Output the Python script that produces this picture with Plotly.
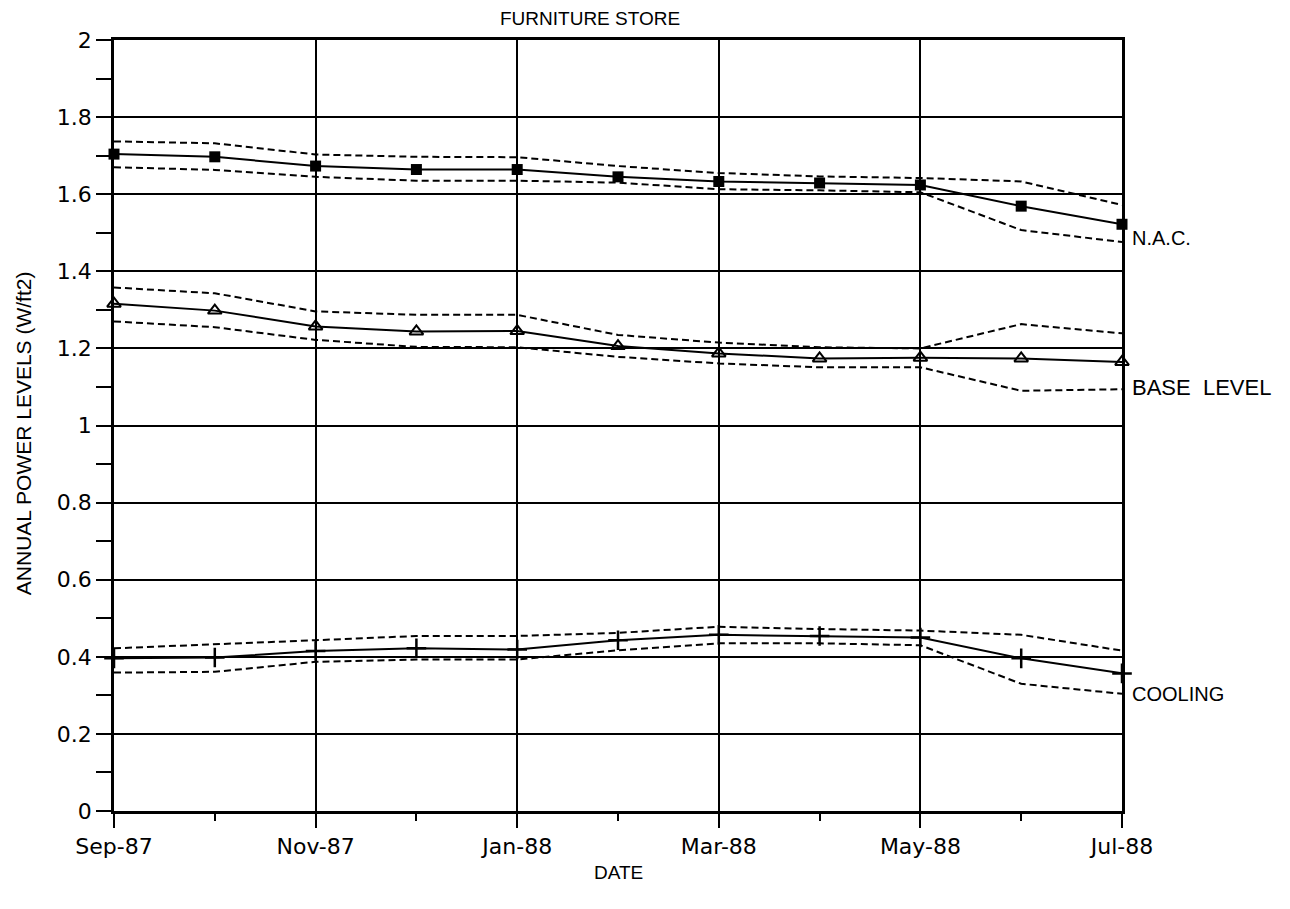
import plotly.graph_objects as go

# Monthly readings, Sep-87 through Jul-88
months = ["Sep-87", "Oct-87", "Nov-87", "Dec-87", "Jan-88", "Feb-88",
          "Mar-88", "Apr-88", "May-88", "Jun-88", "Jul-88"]

nac = [1.704, 1.697, 1.673, 1.664, 1.664, 1.645, 1.633, 1.629, 1.624, 1.569, 1.522]
nac_hi = [1.737, 1.732, 1.703, 1.697, 1.696, 1.673, 1.655, 1.646, 1.642, 1.633, 1.572]
nac_lo = [1.670, 1.663, 1.645, 1.635, 1.635, 1.630, 1.613, 1.610, 1.605, 1.507, 1.476]

base = [1.316, 1.298, 1.257, 1.244, 1.245, 1.206, 1.187, 1.174, 1.176, 1.174, 1.165]
base_hi = [1.358, 1.343, 1.296, 1.287, 1.287, 1.235, 1.215, 1.203, 1.200, 1.263, 1.239]
base_lo = [1.270, 1.255, 1.222, 1.204, 1.203, 1.178, 1.161, 1.151, 1.151, 1.090, 1.094]

cool = [0.396, 0.398, 0.415, 0.422, 0.419, 0.443, 0.457, 0.454, 0.450, 0.396, 0.357]
cool_hi = [0.422, 0.432, 0.443, 0.454, 0.454, 0.462, 0.478, 0.472, 0.468, 0.457, 0.416]
cool_lo = [0.359, 0.361, 0.387, 0.393, 0.393, 0.417, 0.435, 0.435, 0.430, 0.330, 0.304]

series_labels = ["N.A.C.", "BASE LEVEL", "COOLING"]
y_ticks = [0, 0.2, 0.4, 0.6, 0.8, 1, 1.2, 1.4, 1.6, 1.8, 2]

x = list(range(len(months)))
TICK_FONT = "DejaVu Sans"
TEXT_FONT = "Liberation Sans"
INK = "black"

fig = go.Figure()

def band(lo, hi):
    for ys in (hi, lo):
        fig.add_trace(go.Scatter(
            x=x, y=ys, mode="lines",
            line=dict(color=INK, width=2, dash="7px,4px"),
            hoverinfo="skip", showlegend=False))

band(nac_lo, nac_hi)
band(base_lo, base_hi)
band(cool_lo, cool_hi)

fig.add_trace(go.Scatter(
    x=x, y=nac, mode="lines+markers", name=series_labels[0],
    cliponaxis=False,
    line=dict(color=INK, width=2),
    marker=dict(symbol="square", size=11, color=INK)))
fig.add_trace(go.Scatter(
    x=x, y=base, mode="lines+markers", name=series_labels[1],
    cliponaxis=False,
    line=dict(color=INK, width=2),
    marker=dict(symbol="triangle-up-open", size=12, color=INK,
                line=dict(color=INK, width=2))))
fig.add_trace(go.Scatter(
    x=x, y=cool, mode="lines+markers", name=series_labels[2],
    cliponaxis=False,
    line=dict(color=INK, width=2),
    marker=dict(symbol="cross-thin", size=14, color=INK,
                line=dict(color=INK, width=2.5))))

# Series names written beside the right edge
label_y = [nac_lo[-1] + 0.01, base_lo[-1] + 0.005, cool_lo[-1]]
label_size = [20, 22, 20]
for txt, yv, sz in zip(series_labels, label_y, label_size):
    fig.add_annotation(x=x[-1], y=yv, text=txt.replace(" ", "&nbsp; "),
                       showarrow=False, xanchor="left", yanchor="middle",
                       xshift=8, font=dict(family=TEXT_FONT, size=sz, color=INK))

# Chart title and axis titles
fig.add_annotation(x=0.472, y=1.0, xref="paper", yref="paper",
                   text="FURNITURE STORE", showarrow=False,
                   xanchor="center", yanchor="middle", yshift=22,
                   font=dict(family=TEXT_FONT, size=19, color=INK))
fig.add_annotation(x=0.5, y=0.0, xref="paper", yref="paper",
                   text="DATE", showarrow=False,
                   xanchor="center", yanchor="middle", yshift=-61,
                   font=dict(family=TEXT_FONT, size=19, color=INK))
fig.add_annotation(x=0.0, y=0.49, xref="paper", yref="paper",
                   text="ANNUAL POWER LEVELS (W/ft2)", showarrow=False,
                   textangle=-90, xanchor="center", yanchor="middle",
                   xshift=-91, font=dict(family=TEXT_FONT, size=21, color=INK))

fig.update_layout(
    width=1290, height=909,
    margin=dict(l=114, r=168, t=40, b=98),
    paper_bgcolor="white", plot_bgcolor="white",
    showlegend=False,
    xaxis=dict(
        range=[0, len(months) - 1], automargin=False,
        tickmode="array", tickvals=x[::2], ticktext=months[::2],
        showgrid=True, gridcolor=INK, gridwidth=2,
        showline=True, linecolor=INK, linewidth=2.5, mirror=True,
        ticks="outside", ticklen=14, tickwidth=2, tickcolor=INK,
        minor=dict(tickvals=x[1::2], ticks="outside", ticklen=7,
                   tickwidth=2, tickcolor=INK, showgrid=False),
        zeroline=False,
        tickfont=dict(family=TICK_FONT, size=22, color=INK),
    ),
    yaxis=dict(
        range=[0, 2], automargin=False,
        tickmode="array", tickvals=y_ticks,
        showgrid=True, gridcolor=INK, gridwidth=2,
        showline=True, linecolor=INK, linewidth=2.5, mirror=True,
        ticks="outside", ticklen=15, tickwidth=2, tickcolor=INK,
        minor=dict(dtick=0.1, ticks="outside", ticklen=15,
                   tickwidth=2, tickcolor=INK, showgrid=False),
        zeroline=False,
        tickfont=dict(family=TICK_FONT, size=22, color=INK),
    ),
)

fig.write_html("out.html")
